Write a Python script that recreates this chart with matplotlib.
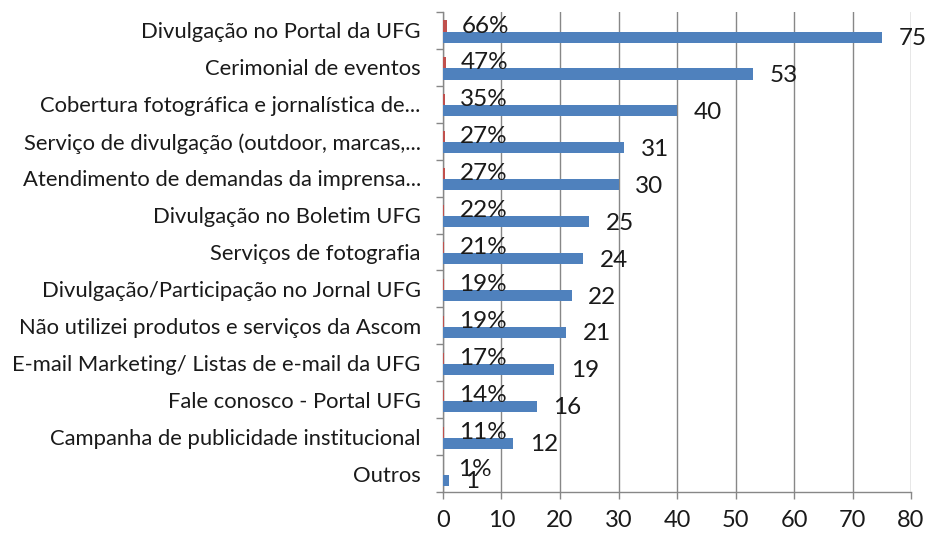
import matplotlib
matplotlib.use("Agg")
import matplotlib.pyplot as plt
import numpy as np

categories = [
    "Divulgação no Portal da UFG",
    "Cerimonial de eventos",
    "Cobertura fotográfica e jornalística de...",
    "Serviço de divulgação (outdoor, marcas,...",
    "Atendimento de demandas da imprensa...",
    "Divulgação no Boletim UFG",
    "Serviços de fotografia",
    "Divulgação/Participação no Jornal UFG",
    "Não utilizei produtos e serviços da Ascom",
    "E-mail Marketing/ Listas de e-mail da UFG",
    "Fale conosco - Portal UFG",
    "Campanha de publicidade institucional",
    "Outros",
]
counts = [75, 53, 40, 31, 30, 25, 24, 22, 21, 19, 16, 12, 1]
percents = [0.66, 0.47, 0.35, 0.27, 0.27, 0.22, 0.21, 0.19, 0.19, 0.17, 0.14, 0.11, 0.01]
xticks = [0, 10, 20, 30, 40, 50, 60, 70, 80]

plt.rcParams['font.family'] = ['Lato', 'DejaVu Sans']

fig = plt.figure(figsize=(9.29, 5.38), dpi=100)
ax = fig.add_axes([443/929, 1-492/538, (911-443)/929, (492-12)/538])

y = np.arange(len(categories))
h = 0.30
blue = "#4F81BD"
red = "#C0504D"
grid = "#878787"
txt = "#1a1a1a"

ax.barh(y - 0.12, percents, height=h, color=red, zorder=3)
ax.barh(y + 0.18, counts, height=h, color=blue, zorder=3)

for yi, p in zip(y, percents):
    ax.annotate(f"{round(p*100)}%", xy=(p, yi - 0.12), xytext=(11, 0),
                textcoords="offset points", ha="left", va="center",
                fontsize=17.5, color=txt, zorder=4)
for yi, c in zip(y, counts):
    ax.annotate(f"{c}", xy=(c, yi + 0.22), xytext=(12, 0),
                textcoords="offset points", ha="left", va="center",
                fontsize=17.5, color=txt, zorder=4)

ax.set_xlim(0, 80)
ax.set_ylim(len(categories) - 0.5, -0.5)
ax.set_xticks(xticks)
ax.set_xticklabels([str(t) for t in xticks], fontsize=17, color=txt)
ax.set_yticks(y)
ax.set_yticklabels(categories, fontsize=15.8, color=txt)
ax.set_yticks(np.arange(-0.5, len(categories), 1), minor=True)
ax.tick_params(axis="y", which="major", length=0, pad=16)
ax.tick_params(axis="y", which="minor", length=5, color=grid, width=1)
ax.tick_params(axis="x", length=5, color=grid, width=1, pad=8)

ax.grid(axis="x", color=grid, linewidth=1, zorder=0)
for s in ["top", "right"]:
    ax.spines[s].set_visible(False)
for s in ["left", "bottom"]:
    ax.spines[s].set_color(grid)
    ax.spines[s].set_linewidth(1)

fig.savefig("out.png", dpi=100)
